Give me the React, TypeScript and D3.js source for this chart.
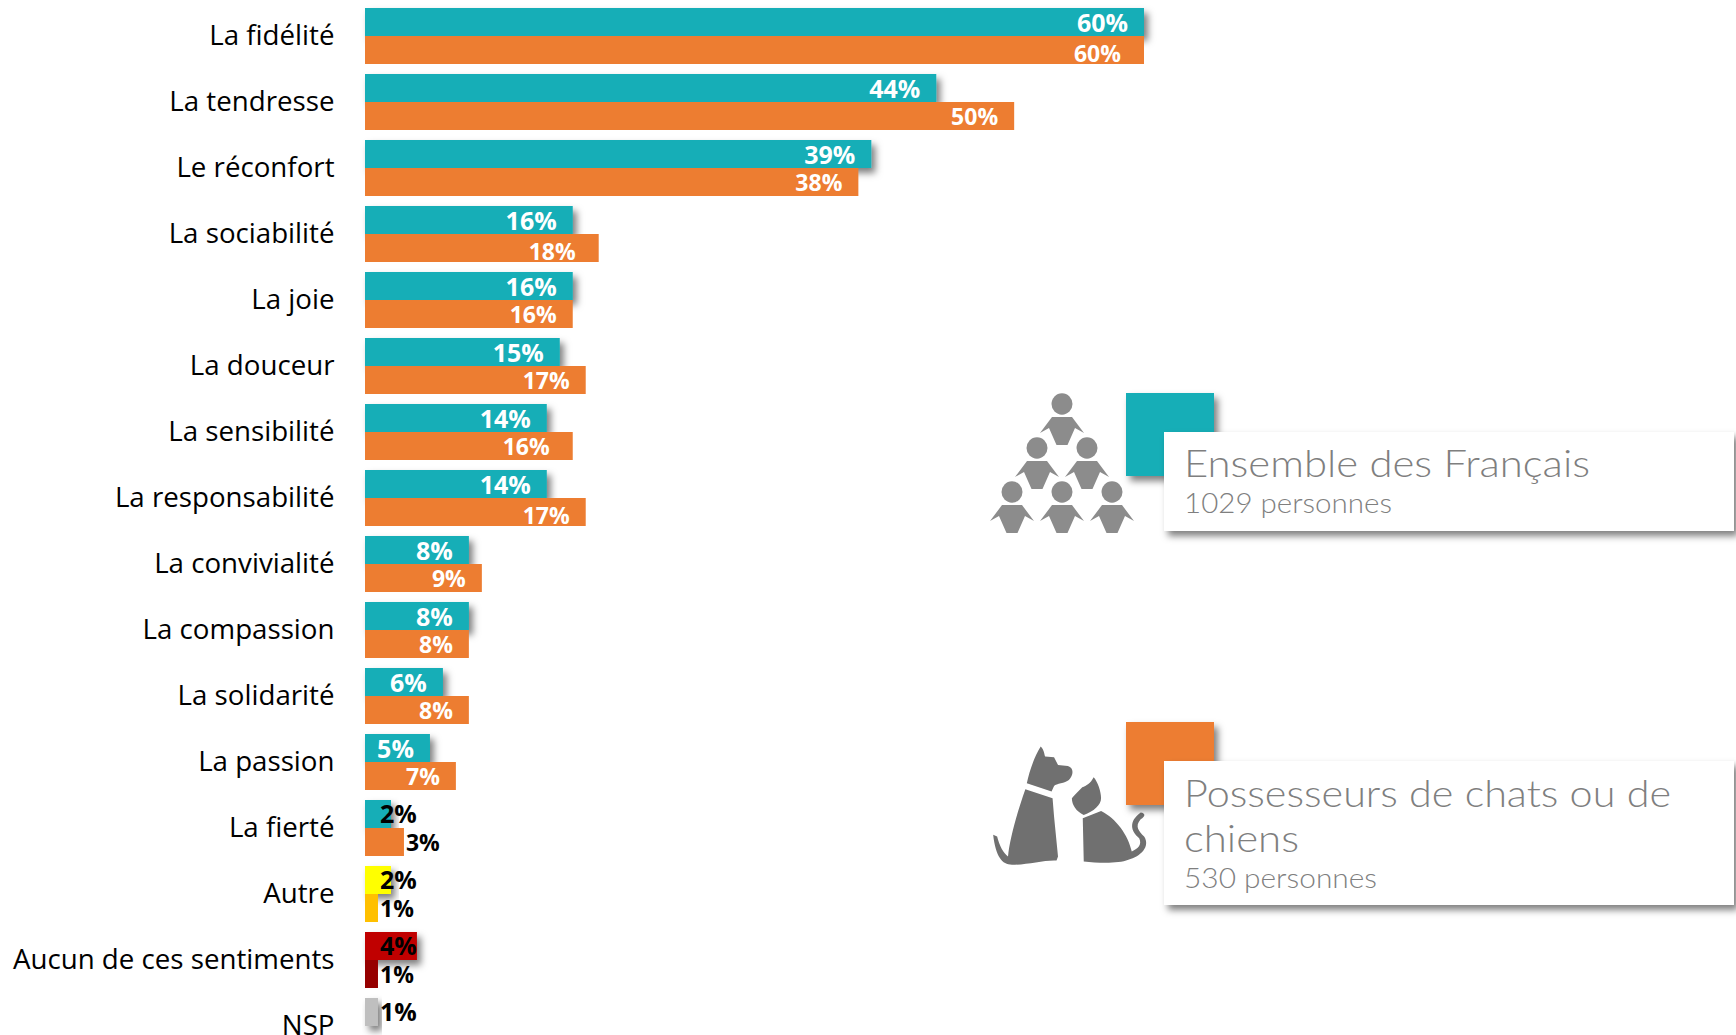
import React from 'react';
import * as d3 from 'd3';

const categories = ['La fidélité', 'La tendresse', 'Le réconfort', 'La sociabilité', 'La joie', 'La douceur', 'La sensibilité', 'La responsabilité', 'La convivialité', 'La compassion', 'La solidarité', 'La passion', 'La fierté', 'Autre', 'Aucun de ces sentiments', 'NSP'];
const ensemble = [60, 44, 39, 16, 16, 15, 14, 14, 8, 8, 6, 5, 2, 2, 4, 1];
const possesseurs = [60, 50, 38, 18, 16, 17, 16, 17, 9, 8, 8, 7, 3, 1, 1, null];
const topColors = ['#12AEB7', '#12AEB7', '#12AEB7', '#12AEB7', '#12AEB7', '#12AEB7', '#12AEB7', '#12AEB7', '#12AEB7', '#12AEB7', '#12AEB7', '#12AEB7', '#12AEB7', '#FFFF00', '#C00000', '#BFBFBF'];
const bottomColors = ['#ED7D31', '#ED7D31', '#ED7D31', '#ED7D31', '#ED7D31', '#ED7D31', '#ED7D31', '#ED7D31', '#ED7D31', '#ED7D31', '#ED7D31', '#ED7D31', '#ED7D31', '#FFC000', '#960000', '#BFBFBF'];

const WIDTH = 1736;
const HEIGHT = 1035;
const SANS = '"Open Sans", sans-serif';
const LEGEND_FONT = 'Lato, sans-serif';

const x = d3.scaleLinear().domain([0, 60]).range([365, 1144]);
const rows = d3.scaleBand().domain(categories).range([8, 1054]).paddingInner(10 / 66).paddingOuter(0);
const sub = d3.scaleBand().domain(['top', 'bottom']).range([0, rows.bandwidth()]);

// orange labels sitting a bit lower / further left in the original
const lowered = new Set([0, 3, 7]);
const pulledLeft = new Set([0, 3, 6]);

const heads = [[1062, 404], [1037, 448], [1087, 448], [1012, 492], [1062, 492], [1112, 492]];
const person = 'M-10,13 L10,13 L22,29 L13,24 L5.5,41 L-5.5,41 L-13,24 L-22,29 Z';

const dogPath = 'M163,140 C170,150 170,162 172,170 L190,172 L198,195 L218,198 C230,203 230,225 220,240 C212,250 195,250 190,258 L185,275 L135,250 C140,215 150,170 163,140 Z M132,268 L187,295 L190,350 L198,470 L195,482 C170,480 135,495 105,495 C85,495 72,470 67,405 L75,410 C80,440 88,460 97,470 C100,420 115,340 132,268 Z';
const catPath = 'M270,232 C278,245 285,275 285,295 C285,315 270,335 250,345 C235,335 226,315 226,295 C232,285 240,272 247,262 C255,258 264,250 270,232 Z M285,333 C315,355 340,405 347,455 C360,445 368,435 362,415 C345,395 340,365 365,338 C375,340 375,350 365,358 C352,380 362,395 372,410 C385,440 365,470 340,480 C320,492 280,490 250,485 L248,355 Z';

const Legend = ({ squareY, boxY, boxH, color, lines, lineY, lineW, count, countY, countW }: any) => (
  <g>
    <rect x={1126} y={squareY} width={88} height={83} fill={color} filter="url(#shadow)" />
    <rect x={1164} y={boxY} width={570} height={boxH} fill="#fff" filter="url(#shadow)" />
    {lines.map((t: string, i: number) => (
      <text key={t} x={1184} y={lineY[i]} fontFamily={LEGEND_FONT} fontWeight={300} fontSize={38} fill="#7f7f7f" textLength={lineW[i]} lengthAdjust="spacingAndGlyphs">{t}</text>
    ))}
    <text x={1184} y={countY} fontFamily={LEGEND_FONT} fontWeight={300} fontSize={28} fill="#7f7f7f" textLength={countW} lengthAdjust="spacingAndGlyphs">{count}</text>
  </g>
);

export default function App() {
  return (
    <svg width={WIDTH} height={HEIGHT} style={{ position: 'absolute', left: 0, top: 0, display: 'block' }}>
      <defs>
        <filter id="shadow" x="-20%" y="-20%" width="150%" height="170%">
          <feDropShadow dx={4} dy={5} stdDeviation={3.5} floodColor="#000" floodOpacity={0.5} />
        </filter>
      </defs>

      {categories.map((c, i) => {
        const y0 = rows(c) as number;
        const a = ensemble[i];
        const b = possesseurs[i];
        const ya = y0 + (sub('top') as number);
        const yb = y0 + (sub('bottom') as number);
        const h = sub.bandwidth();
        return (
          <g key={c}>
            <text x={334.5} y={y0 + h + 9} textAnchor="end" fontFamily={SANS} fontSize={27.7} fill="#000">{c}</text>
            <rect x={x(0)} y={ya} width={x(a) - x(0)} height={h} fill={topColors[i]} filter="url(#shadow)" />
            {b !== null && <rect x={x(0)} y={yb} width={x(b) - x(0)} height={h} fill={bottomColors[i]} />}
            {a >= 5 ? (
              <text x={x(a) - 16} y={ya + 23.5} textAnchor="end" fontFamily={SANS} fontWeight={700} fontSize={25} fill="#fff">{a}%</text>
            ) : (
              <text x={x(0) + 15} y={ya + 23} fontFamily={SANS} fontWeight={700} fontSize={25} fill="#000">{a}%</text>
            )}
            {b !== null && (b >= 5 ? (
              <text x={x(b) - (pulledLeft.has(i) ? 23 : 16)} y={yb + (lowered.has(i) ? 26 : 23)} textAnchor="end" fontFamily={SANS} fontWeight={700} fontSize={23} fill="#fff">{b}%</text>
            ) : (
              <text x={x(b) + 2} y={yb + 22.5} fontFamily={SANS} fontWeight={700} fontSize={23} fill="#000">{b}%</text>
            ))}
          </g>
        );
      })}

      <g fill="#8c8c8c">
        {heads.map(([hx, hy]) => (
          <g key={`${hx}-${hy}`} transform={`translate(${hx},${hy})`}>
            <ellipse rx={10.5} ry={10.7} />
            <path d={person} />
          </g>
        ))}
      </g>
      <g fill="#707070" transform="translate(960,700) scale(0.495,0.333)">
        <path d={dogPath} />
        <path d={catPath} />
      </g>

      <Legend squareY={393} boxY={432} boxH={99} color="#12AEB7"
        lines={['Ensemble des Français']} lineY={[477]} lineW={[406]}
        count="1029 personnes" countY={513} countW={208} />
      <Legend squareY={722} boxY={761} boxH={144} color="#ED7D31"
        lines={['Possesseurs de chats ou de', 'chiens']} lineY={[807, 852]} lineW={[487, 115]}
        count="530 personnes" countY={888} countW={193} />
    </svg>
  );
}
